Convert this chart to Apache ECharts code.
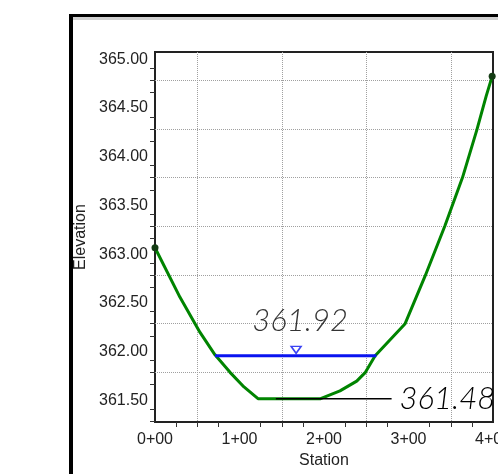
<!DOCTYPE html>
<html>
<head>
<meta charset="utf-8">
<title>Cross Section</title>
<script src="https://cdn.jsdelivr.net/npm/echarts@6/dist/echarts.min.js"></script>
<style>
  html, body { margin: 0; padding: 0; background: #ffffff; }
  #chart { width: 498px; height: 474px; }
</style>
</head>
<body>
<div id="chart"></div>
<script>
// Ground profile (station in ft, elevation in ft)
const groundStations   = [0, 29.6, 53.3, 71.0, 88.8, 105.3, 121.9, 196.0, 218.9, 238.7, 249.0, 260.5, 296.0, 319.7, 342.9, 363.9, 380.9, 392.0, 399.0];
const groundElevations = [363.03, 362.52, 362.16, 361.93, 361.75, 361.60, 361.48, 361.48, 361.56, 361.66, 361.75, 361.92, 362.25, 362.74, 363.25, 363.75, 364.24, 364.59, 364.79];

// Water surface
const wsElevation = 361.92;
const wsStations = [71, 262];
const wsMarkerStation = 167;

// Minimum channel elevation leader
const minElevation = 361.48;
const minLeaderStations = [143, 280];

// Axis ticks, labels and grid positions
const xLabelStations = [0, 100, 200, 300, 400];
const xTickStations  = [25, 50, 75, 125, 150, 175, 225, 250, 275, 325, 350, 375];
const xGridStations  = [50, 150, 250, 350];
const yLabelValues   = [361.5, 362.0, 362.5, 363.0, 363.5, 364.0, 364.5, 365.0];
const yTickValues    = [361.25, 361.375, 361.625, 361.75, 361.875, 362.125, 362.25, 362.375, 362.625, 362.75, 362.875,
                        363.125, 363.25, 363.375, 363.625, 363.75, 363.875, 364.125, 364.25, 364.375, 364.625, 364.75, 364.875];
const yGridValues    = [361.75, 362.25, 362.75, 363.25, 363.75, 364.25, 364.75];

const axisFont = 'Liberation Sans, Arial, sans-serif';
const noteFont = 'Lato, "Open Sans", sans-serif';
const textColor = '#222';

function stationLabel(v) {
  const s = Math.round(v);
  return Math.floor(s / 100) + '+' + String(s % 100).padStart(2, '0');
}

const chart = echarts.init(document.getElementById('chart'), null, { renderer: 'canvas' });

const xRange = { min: 0, max: 400 };
const yRange = { min: 361.24, max: 365.04 };

chart.setOption({
  animation: false,
  backgroundColor: '#ffffff',
  graphic: [
    { type: 'rect', z: 100, shape: { x: 69, y: 14, width: 429, height: 3 }, style: { fill: '#000' } },
    { type: 'rect', z: 100, shape: { x: 73, y: 17, width: 425, height: 3 }, style: { fill: '#d0d0d0' } },
    { type: 'rect', z: 100, shape: { x: 69, y: 14, width: 4, height: 460 }, style: { fill: '#000' } }
  ],
  grid: {
    left: 155, right: 5, top: 52, bottom: 52,
    show: true, borderColor: '#222', borderWidth: 2, backgroundColor: 'transparent',
    containLabel: false,
    outerBoundsMode: 'none'
  },
  xAxis: [
    {
      type: 'value', position: 'bottom', min: xRange.min, max: xRange.max,
      axisLine: { show: false },
      axisTick: { show: true, customValues: xTickStations, length: 5, lineStyle: { color: '#333', width: 1 } },
      axisLabel: { customValues: xLabelStations, formatter: stationLabel, fontFamily: axisFont, fontSize: 16, color: textColor, margin: 10, hideOverlap: false },
      splitLine: { show: false },
      name: 'Station', nameLocation: 'middle', nameGap: 30,
      nameTextStyle: { fontFamily: axisFont, fontSize: 16, color: textColor }
    },
    {
      type: 'value', position: 'top', min: xRange.min, max: xRange.max,
      axisLine: { show: false },
      axisTick: { show: false, customValues: xGridStations },
      axisLabel: { show: false },
      splitLine: { show: true, lineStyle: { type: [1, 1], color: '#a0a0a0', width: 1 } }
    }
  ],
  yAxis: [
    {
      type: 'value', position: 'left', min: yRange.min, max: yRange.max,
      axisLine: { show: false },
      axisTick: { show: true, customValues: yTickValues, length: 5, lineStyle: { color: '#333', width: 1 } },
      axisLabel: {
        customValues: yLabelValues,
        formatter: v => '{v|' + v.toFixed(2) + '}',
        fontFamily: axisFont, fontSize: 16, color: textColor, margin: 7,
        rich: {
          v: { fontFamily: axisFont, fontSize: 16, color: textColor, padding: [7, 0, 0, 0] }
        }
      },
      splitLine: { show: false },
      name: 'Elevation', nameLocation: 'middle', nameGap: 66,
      nameTextStyle: { fontFamily: axisFont, fontSize: 16, color: textColor }
    },
    {
      type: 'value', position: 'right', min: yRange.min, max: yRange.max,
      axisLine: { show: false },
      axisTick: { show: false, customValues: yGridValues },
      axisLabel: { show: false },
      splitLine: { show: true, lineStyle: { type: [1, 1], color: '#a0a0a0', width: 1 } }
    }
  ],
  series: [
    {
      name: 'Ground',
      type: 'line',
      xAxisIndex: 0, yAxisIndex: 0,
      data: groundStations.map((s, i) => [s, groundElevations[i]]),
      lineStyle: { color: '#008400', width: 3 },
      itemStyle: { color: '#143c14' },
      symbol: 'circle',
      symbolSize: (val, p) => (p.dataIndex === 0 || p.dataIndex === groundStations.length - 1) ? 7 : 0,
      showAllSymbol: true,
      clip: false,
      z: 3
    },
    {
      name: 'WS',
      type: 'line',
      xAxisIndex: 0, yAxisIndex: 0,
      data: wsStations.map(s => [s, wsElevation]),
      lineStyle: { color: '#0a14f0', width: 3 },
      symbol: 'none',
      z: 4
    },
    {
      name: 'WS marker',
      type: 'scatter',
      xAxisIndex: 0, yAxisIndex: 0,
      data: [[wsMarkerStation, wsElevation]],
      symbol: 'path://M0,0 L10,0 L5,7 Z',
      symbolSize: [10, 7],
      symbolOffset: [0, -6],
      itemStyle: { color: '#ffffff', borderColor: '#0a14f0', borderWidth: 1.5 },
      label: {
        show: true, position: 'top', distance: 9, offset: [4, 0],
        formatter: p => p.value[1].toFixed(2),
        fontFamily: noteFont, fontStyle: 'italic', fontWeight: 300, fontSize: 31, color: '#000'
      },
      z: 6
    },
    {
      name: 'Min elevation',
      type: 'line',
      xAxisIndex: 0, yAxisIndex: 0,
      data: minLeaderStations.map(s => [s, minElevation]),
      lineStyle: { color: '#000', width: 1.5 },
      symbol: 'none',
      endLabel: {
        show: true, distance: 8,
        formatter: p => p.value[1].toFixed(2),
        fontFamily: noteFont, fontStyle: 'italic', fontWeight: 300, fontSize: 31, color: '#000'
      },
      z: 5
    }
  ]
});
</script>
</body>
</html>
